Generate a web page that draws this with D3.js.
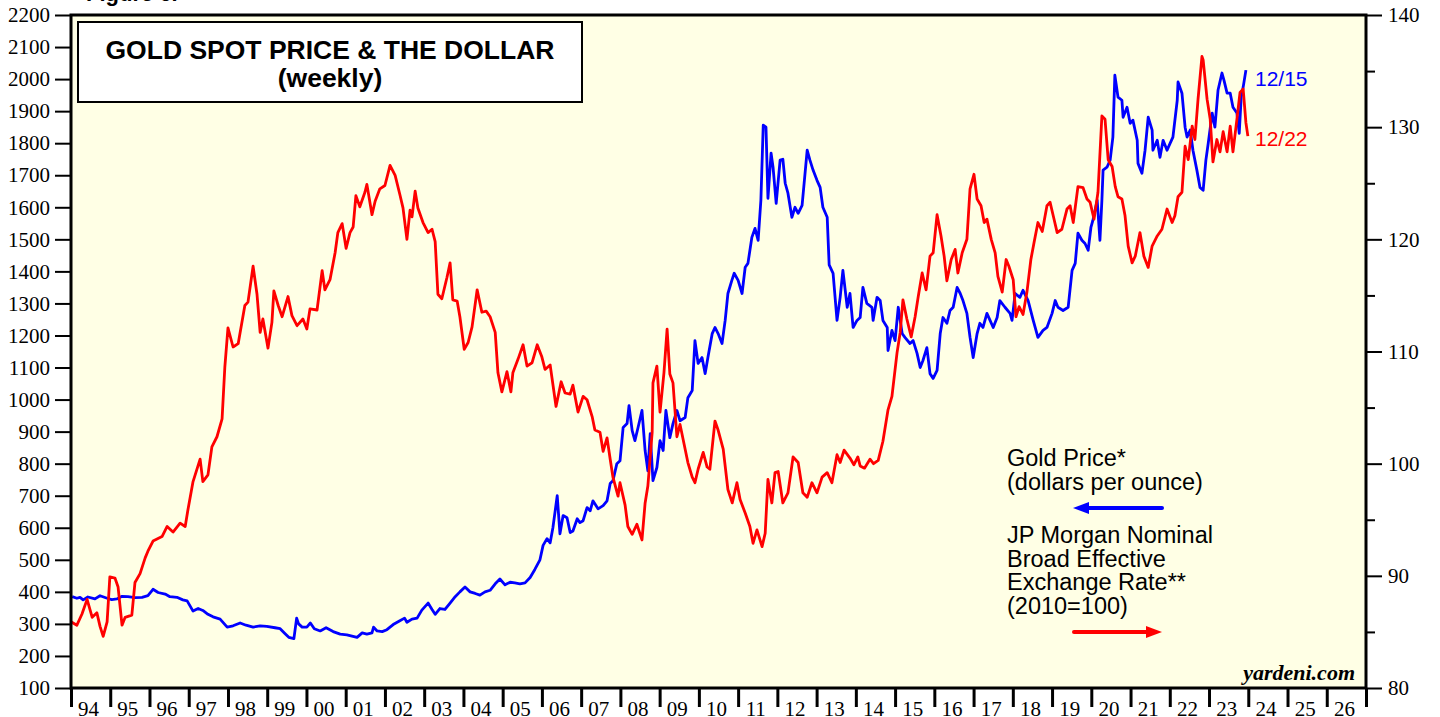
<!DOCTYPE html>
<html>
<head>
<meta charset="utf-8">
<script src="https://cdn.jsdelivr.net/npm/d3@7"></script>
<style>
  body { margin: 0; background: #ffffff; }
  svg text { fill: #000; }
</style>
</head>
<body>
<svg id="chart"></svg>
<script>
// gold spot price, dollars per ounce
const goldYears = [
  1994.03,1994.15,1994.23,1994.31,1994.43,1994.61,1994.74,1994.92,
  1995.04,1995.17,1995.30,1995.45,1995.63,1995.81,1995.96,
  1996.09,1996.22,1996.40,1996.52,1996.70,1996.85,1996.96,
  1997.11,1997.24,1997.36,1997.49,1997.62,1997.80,1997.98,
  1998.13,1998.31,1998.46,1998.64,1998.82,1998.99,
  1999.20,1999.33,1999.45,1999.55,1999.68,1999.75,1999.80,1999.89,
  2000.01,2000.10,2000.20,2000.35,2000.50,2000.68,2000.86,
  2001.03,2001.16,2001.29,2001.42,2001.54,2001.67,2001.71,2001.80,2001.93,
  2002.05,2002.21,2002.38,2002.50,2002.56,2002.69,2002.82,2002.94,
  2003.10,2003.20,2003.28,2003.40,2003.53,2003.66,2003.79,2003.91,
  2004.04,2004.17,2004.30,2004.42,2004.55,2004.68,2004.81,2004.93,
  2005.06,2005.19,2005.31,2005.44,2005.57,2005.70,2005.82,2005.95,
  2006.03,2006.13,2006.21,2006.28,2006.39,2006.46,2006.54,2006.64,2006.72,2006.79,2006.90,2006.97,
  2007.05,2007.15,2007.23,2007.30,2007.43,2007.56,2007.66,2007.74,2007.81,2007.91,2007.99,
  2008.07,2008.17,2008.22,2008.30,2008.37,2008.45,2008.55,2008.63,2008.70,2008.76,2008.83,2008.93,
  2009.01,2009.09,2009.16,2009.26,2009.34,2009.44,2009.52,2009.65,2009.72,2009.83,2009.90,2009.98,
  2010.08,2010.16,2010.23,2010.34,2010.41,2010.49,2010.59,2010.67,2010.74,2010.84,2010.90,
  2011.00,2011.10,2011.18,2011.25,2011.35,2011.43,2011.51,2011.58,2011.64,2011.71,2011.76,2011.84,2011.89,2011.97,
  2012.07,2012.14,2012.20,2012.27,2012.37,2012.45,2012.53,2012.63,2012.76,2012.83,2012.91,
  2013.01,2013.09,2013.16,2013.27,2013.32,2013.42,2013.52,2013.60,2013.67,2013.78,2013.85,2013.93,
  2014.03,2014.11,2014.18,2014.28,2014.41,2014.44,2014.54,2014.62,2014.69,2014.80,2014.82,2014.92,
  2015.00,2015.08,2015.18,2015.25,2015.38,2015.46,2015.56,2015.64,2015.71,2015.81,2015.89,2015.97,
  2016.07,2016.15,2016.22,2016.32,2016.40,2016.48,2016.58,2016.66,2016.73,2016.83,2016.91,2016.99,
  2017.09,2017.16,2017.24,2017.34,2017.42,2017.50,2017.60,2017.67,2017.80,2017.93,2017.98,
  2018.06,2018.18,2018.26,2018.39,2018.52,2018.64,2018.77,2018.87,
  2019.00,2019.08,2019.15,2019.28,2019.41,2019.51,2019.59,2019.66,2019.76,2019.84,2019.92,2019.99,
  2020.04,2020.15,2020.22,2020.27,2020.30,2020.40,2020.48,2020.55,2020.60,2020.68,2020.78,2020.81,2020.91,2020.99,
  2021.06,2021.17,2021.19,2021.29,2021.37,2021.45,2021.55,2021.57,2021.68,2021.75,2021.83,2021.93,
  2022.01,2022.08,2022.19,2022.21,2022.31,2022.39,2022.44,2022.52,2022.59,2022.69,2022.77,2022.85,2022.92,2022.98,
  2023.08,2023.15,2023.23,2023.33,2023.38,2023.46,2023.54,2023.61,2023.71,2023.77,2023.82,2023.87,2023.94
];
const goldPrice = [
  385,380,383,375,384,378,388,380,
  376,378,386,385,382,383,388,
  408,398,393,385,383,375,372,
  340,348,342,330,322,315,290,
  294,303,296,290,294,292,
  288,285,270,258,254,318,300,290,
  290,303,285,278,288,276,268,
  266,262,258,272,268,272,290,278,276,
  282,298,310,318,305,315,318,343,
  365,345,330,348,345,365,385,400,
  415,400,395,390,400,405,425,440,
  422,430,428,425,428,445,470,500,
  545,566,553,600,700,581,638,631,585,590,628,616,
  622,663,653,684,659,669,684,738,747,800,809,
  913,925,981,903,872,913,966,841,778,894,747,788,
  872,841,966,881,925,966,934,944,1006,1028,1184,1113,
  1131,1081,1131,1206,1225,1206,1175,1247,1331,1372,1394,
  1372,1331,1413,1425,1506,1534,1497,1622,1856,1850,1628,1769,1725,1612,
  1747,1750,1675,1644,1569,1600,1581,1606,1778,1747,1716,
  1684,1662,1600,1569,1420,1394,1247,1319,1403,1288,1331,1225,
  1247,1256,1350,1300,1288,1247,1319,1309,1247,1225,1153,1216,
  1184,1288,1206,1194,1175,1184,1144,1100,1122,1162,1081,1066,
  1091,1206,1256,1238,1278,1288,1350,1331,1309,1269,1194,1131,
  1206,1238,1225,1269,1247,1225,1256,1309,1288,1269,1247,
  1331,1319,1341,1309,1247,1194,1216,1225,
  1269,1309,1288,1278,1288,1403,1425,1519,1497,1487,1466,1537,
  1559,1622,1497,1622,1716,1725,1747,1819,2012,1944,1934,1881,1912,1862,
  1872,1809,1737,1706,1778,1881,1841,1778,1809,1756,1809,1778,
  1800,1819,1934,1991,1956,1850,1819,1841,1778,1716,1662,1653,1747,1800,
  1894,1850,1966,2019,1997,1956,1956,1912,1894,1831,1944,1975,2028
];

// JP Morgan nominal broad effective exchange rate (2010=100)
const dollarYears = [
  1994.00,1994.15,1994.28,1994.41,1994.54,1994.66,1994.74,1994.82,1994.92,1994.99,
  1995.12,1995.20,1995.30,1995.38,1995.55,1995.63,1995.76,1995.89,1995.96,
  1996.09,1996.32,1996.45,1996.60,1996.78,1996.91,1996.98,
  1997.11,1997.29,1997.36,1997.49,1997.59,1997.72,1997.85,1997.92,
  1998.00,1998.13,1998.26,1998.43,1998.51,1998.64,1998.74,1998.82,1998.89,
  1999.02,1999.12,1999.17,1999.28,1999.38,1999.53,1999.63,1999.76,1999.91,
  2000.01,2000.09,2000.27,2000.40,2000.47,2000.60,2000.73,2000.80,2000.91,
  2001.01,2001.11,2001.19,2001.26,2001.36,2001.49,2001.54,2001.67,2001.75,2001.87,
  2002.00,2002.13,2002.26,2002.38,2002.46,2002.56,2002.64,2002.69,2002.77,2002.84,2002.97,
  2003.10,2003.20,2003.28,2003.35,2003.45,2003.58,2003.66,2003.73,2003.84,2003.91,
  2004.02,2004.12,2004.22,2004.35,2004.47,2004.58,2004.68,2004.81,2004.88,2004.98,
  2005.11,2005.21,2005.26,2005.39,2005.52,2005.62,2005.75,2005.88,
  2006.00,2006.08,2006.21,2006.36,2006.49,2006.59,2006.72,2006.79,2006.92,
  2007.05,2007.15,2007.28,2007.35,2007.48,2007.56,2007.66,2007.74,2007.81,2007.94,2007.99,
  2008.12,2008.19,2008.30,2008.42,2008.55,2008.63,2008.70,2008.81,2008.83,2008.93,
  2009.01,2009.11,2009.19,2009.26,2009.34,2009.44,2009.52,2009.62,2009.72,2009.83,2009.90,2009.98,
  2010.11,2010.21,2010.28,2010.41,2010.49,2010.62,2010.74,2010.85,2010.97,
  2011.05,2011.18,2011.30,2011.38,2011.48,2011.61,2011.69,2011.76,2011.86,2011.94,
  2012.02,2012.14,2012.27,2012.40,2012.53,2012.65,2012.76,2012.88,
  2013.01,2013.14,2013.27,2013.39,2013.52,2013.60,2013.70,2013.85,2013.95,
  2014.05,2014.11,2014.22,2014.36,2014.45,2014.57,2014.69,2014.82,2014.92,
  2015.05,2015.13,2015.20,2015.30,2015.41,2015.51,2015.59,2015.69,2015.79,2015.89,2015.97,
  2016.07,2016.17,2016.25,2016.32,2016.43,2016.53,2016.60,2016.71,2016.83,2016.91,
  2017.01,2017.09,2017.19,2017.27,2017.34,2017.45,2017.55,2017.62,2017.73,2017.83,2017.90,
  2018.01,2018.08,2018.16,2018.26,2018.36,2018.46,2018.54,2018.64,2018.75,2018.87,2018.95,
  2019.03,2019.13,2019.25,2019.38,2019.46,2019.54,2019.66,2019.79,2019.89,2019.97,
  2020.07,2020.17,2020.27,2020.35,2020.43,2020.53,2020.61,2020.68,2020.78,2020.86,2020.94,
  2021.04,2021.12,2021.24,2021.34,2021.45,2021.55,2021.68,2021.80,2021.93,
  2022.06,2022.13,2022.21,2022.31,2022.39,2022.47,2022.57,2022.64,2022.72,2022.82,2022.85,2022.95,
  2023.03,2023.10,2023.20,2023.28,2023.36,2023.46,2023.54,2023.61,2023.71,2023.79,2023.87,2023.94,2023.99
];
const dollarIndex = [
  85.9,85.6,86.6,87.9,86.3,86.7,85.5,84.6,85.9,89.9,
  89.8,89.0,85.6,86.3,86.5,89.4,90.2,91.6,92.2,
  93.1,93.5,94.4,93.9,94.7,94.4,95.9,
  98.4,100.4,98.4,99.0,101.5,102.4,104.0,108.6,
  112.1,110.4,110.7,114.1,114.4,117.6,115.1,111.7,112.9,
  110.3,112.6,115.4,114.1,113.1,114.9,113.2,112.3,112.9,
  112.0,113.8,113.7,117.2,115.5,116.4,118.8,120.6,121.4,
  119.2,120.6,121.1,123.9,122.9,124.2,124.9,122.2,123.4,124.5,
  124.8,126.6,125.7,124.0,122.8,120.0,122.6,122.0,124.3,122.8,121.5,
  120.6,120.9,119.8,115.1,114.7,116.6,117.9,114.6,114.5,113.1,
  110.2,110.8,112.2,115.5,113.5,113.6,113.1,111.7,108.1,106.4,
  108.2,106.4,108.1,109.3,110.6,108.7,109.0,110.6,
  109.5,108.4,108.8,105.1,107.3,106.3,106.2,107.0,104.6,
  106.0,105.7,104.2,103.0,102.8,101.1,102.3,100.4,98.8,97.1,98.3,
  96.3,94.4,93.7,94.6,93.2,96.5,98.0,102.8,107.2,108.7,
  104.6,108.1,112.0,108.0,107.2,102.4,103.5,101.8,100.1,98.8,98.3,99.5,
  101.0,99.7,99.5,103.8,103.0,101.3,97.7,96.5,98.3,
  96.8,95.6,94.4,92.9,94.1,92.6,93.8,98.6,96.5,99.2,
  99.3,96.5,97.4,100.6,100.1,97.4,97.0,98.3,
  97.4,98.8,99.2,98.3,100.8,100.1,101.2,100.5,99.9,
  100.6,99.8,99.6,100.4,100.0,100.3,102.0,104.8,106.0,
  109.9,111.7,114.6,112.9,111.3,113.1,114.9,117.0,115.5,118.5,118.8,
  122.2,120.3,118.5,116.3,118.2,119.1,117.0,118.8,120.0,124.5,
  125.8,123.6,123.0,121.5,121.8,120.0,118.8,116.7,115.3,118.2,117.6,
  116.4,113.1,114.0,113.3,115.3,118.2,119.7,121.5,120.7,123.0,123.3,
  122.1,120.6,120.9,122.7,123.0,121.5,124.7,124.6,123.6,123.3,
  121.8,124.2,131.0,130.7,127.1,126.5,124.7,123.8,123.6,122.1,119.4,
  117.9,118.5,120.6,118.5,117.5,119.4,120.3,120.9,122.7,
  121.5,122.1,123.8,124.2,128.3,127.1,130.1,128.9,132.5,136.3,136.0,132.5,
  130.7,126.9,128.9,127.8,129.6,127.8,130.1,127.8,130.7,133.1,133.4,130.4,129.2
];

const goldTicks = [100,200,300,400,500,600,700,800,900,1000,1100,1200,1300,1400,1500,1600,1700,1800,1900,2000,2100,2200];
const dollarTicks = [80,90,100,110,120,130,140];
const dollarMinorTicks = [85,95,105,115,125,135];
const yearLabels = ['94','95','96','97','98','99','00','01','02','03','04','05','06','07','08','09','10',
                    '11','12','13','14','15','16','17','18','19','20','21','22','23','24','25','26'];
const titleLines = ['GOLD SPOT PRICE & THE DOLLAR', '(weekly)'];
const goldLegend = ['Gold Price*', '(dollars per ounce)'];
const dollarLegend = ['JP Morgan Nominal', 'Broad Effective', 'Exchange Rate**', '(2010=100)'];
const lastGold = '12/15';
const lastDollar = '12/22';

const W = 1440, H = 717;
const plot = {left: 71, right: 1366, top: 15, bottom: 688};
const BLUE = '#0000ff', RED = '#ff0000';
const serif = '"Liberation Serif", "Times New Roman", serif';
const sans = '"Liberation Sans", Arial, sans-serif';

let svg = d3.select('#chart').attr('width', W).attr('height', H);

let x = d3.scaleLinear().domain([1994, 1994 + yearLabels.length]).range([plot.left, plot.right]);
let yGold = d3.scaleLinear().domain([100, 2200]).range([plot.bottom, plot.top]);
let yDollar = d3.scaleLinear().domain([80, 140]).range([plot.bottom, plot.top]);

svg.append('defs').append('clipPath').attr('id', 'plotClip')
  .append('rect')
  .attr('x', plot.left).attr('y', plot.top)
  .attr('width', plot.right - plot.left).attr('height', plot.bottom - plot.top);

svg.append('rect')
  .attr('x', plot.left).attr('y', plot.top)
  .attr('width', plot.right - plot.left).attr('height', plot.bottom - plot.top)
  .attr('fill', '#ffffe5');

// bold figure heading, mostly cut off at the top edge
svg.append('text').text('Figure 6.')
  .attr('x', 86).attr('y', 1)
  .style('font-family', sans).style('font-weight', 'bold').style('font-size', '22px');

// series
let goldData = d3.zip(goldYears, goldPrice);
let dollarData = d3.zip(dollarYears, dollarIndex);

let lines = svg.append('g').attr('clip-path', 'url(#plotClip)');
lines.append('path').datum(goldData)
  .attr('fill', 'none').attr('stroke', BLUE).attr('stroke-width', 2.8).attr('stroke-linejoin', 'round')
  .attr('d', d3.line().x(d => x(d[0])).y(d => yGold(d[1])));
lines.append('path').datum(dollarData)
  .attr('fill', 'none').attr('stroke', RED).attr('stroke-width', 2.8).attr('stroke-linejoin', 'round')
  .attr('d', d3.line().x(d => x(d[0])).y(d => yDollar(d[1])));

// frame
svg.append('rect')
  .attr('x', plot.left).attr('y', plot.top)
  .attr('width', plot.right - plot.left).attr('height', plot.bottom - plot.top)
  .attr('fill', 'none').attr('stroke', '#000').attr('stroke-width', 3);

function styleAxis(g, size) {
  g.select('.domain').remove();
  g.selectAll('.tick line').attr('stroke', '#000').attr('stroke-width', 2);
  g.selectAll('.tick text').style('font-family', serif).style('font-size', size).attr('fill', '#000');
}

// left axis: gold
let leftAxis = svg.append('g').attr('transform', 'translate(' + plot.left + ',0)')
  .call(d3.axisLeft(yGold).tickValues(goldTicks).tickFormat(d3.format('d')).tickSize(16).tickPadding(5));
styleAxis(leftAxis, '21px');

// right axis: dollar
let rightMinor = svg.append('g').attr('transform', 'translate(' + plot.right + ',0)')
  .call(d3.axisRight(yDollar).tickValues(dollarMinorTicks).tickSize(9).tickFormat(''));
styleAxis(rightMinor, '21px');
let rightAxis = svg.append('g').attr('transform', 'translate(' + plot.right + ',0)')
  .call(d3.axisRight(yDollar).tickValues(dollarTicks).tickFormat(d3.format('d')).tickSize(16).tickPadding(6));
styleAxis(rightAxis, '21px');

// bottom axis: year boundaries, labels centred in each year
let yearEdges = d3.range(0, yearLabels.length + 1).map(i => 1994 + i);
let bottomAxis = svg.append('g').attr('transform', 'translate(0,' + plot.bottom + ')')
  .call(d3.axisBottom(x).tickValues(yearEdges).tickSize(19).tickFormat(''));
styleAxis(bottomAxis, '21px');
bottomAxis.selectAll('.tick line').attr('stroke-width', 3);

svg.append('g').selectAll('text').data(yearLabels).enter().append('text')
  .text(d => d)
  .attr('x', (d, i) => x(1994 + i + 0.5) - 2)
  .attr('y', 716)
  .attr('text-anchor', 'middle')
  .style('font-family', serif).style('font-size', '21px');

// title box
svg.append('rect')
  .attr('x', 78).attr('y', 22).attr('width', 504).attr('height', 80)
  .attr('fill', '#fff').attr('stroke', '#000').attr('stroke-width', 2);
svg.append('g').selectAll('text').data(titleLines).enter().append('text')
  .text(d => d)
  .attr('x', 330).attr('y', (d, i) => 59 + i * 28)
  .attr('text-anchor', 'middle')
  .style('font-family', sans).style('font-weight', 'bold').style('font-size', '26.5px');

// legend text and arrows
svg.append('g').selectAll('text').data(goldLegend).enter().append('text')
  .text(d => d)
  .attr('x', 1007).attr('y', (d, i) => 466 + i * 24)
  .style('font-family', sans).style('font-size', '23.5px');
svg.append('g').selectAll('text').data(dollarLegend).enter().append('text')
  .text(d => d)
  .attr('x', 1007).attr('y', (d, i) => 543 + i * 23.7)
  .style('font-family', sans).style('font-size', '23.5px');

function arrow(y, x0, x1, color) {
  let dir = x1 > x0 ? 1 : -1;
  let head = 16;
  svg.append('line')
    .attr('x1', x0).attr('y1', y).attr('x2', x1 - dir * head).attr('y2', y)
    .attr('stroke', color).attr('stroke-width', 4).attr('stroke-linecap', 'round');
  svg.append('path')
    .attr('d', 'M' + x1 + ',' + y + 'L' + (x1 - dir * head) + ',' + (y - 6) + 'L' + (x1 - dir * head) + ',' + (y + 6) + 'Z')
    .attr('fill', color);
}
arrow(508, 1162, 1073, BLUE);
arrow(632, 1074, 1162, RED);

// last-date labels
svg.append('text').text(lastGold)
  .attr('x', 1255).attr('y', 86)
  .attr('fill', BLUE).style('fill', BLUE)
  .style('font-family', sans).style('font-size', '21px');
svg.append('text').text(lastDollar)
  .attr('x', 1255).attr('y', 146)
  .attr('fill', RED).style('fill', RED)
  .style('font-family', sans).style('font-size', '21px');

// source
svg.append('text').text('yardeni.com')
  .attr('x', 1355).attr('y', 680)
  .attr('text-anchor', 'end')
  .style('font-family', serif).style('font-weight', 'bold').style('font-style', 'italic').style('font-size', '22px');
</script>
</body>
</html>
